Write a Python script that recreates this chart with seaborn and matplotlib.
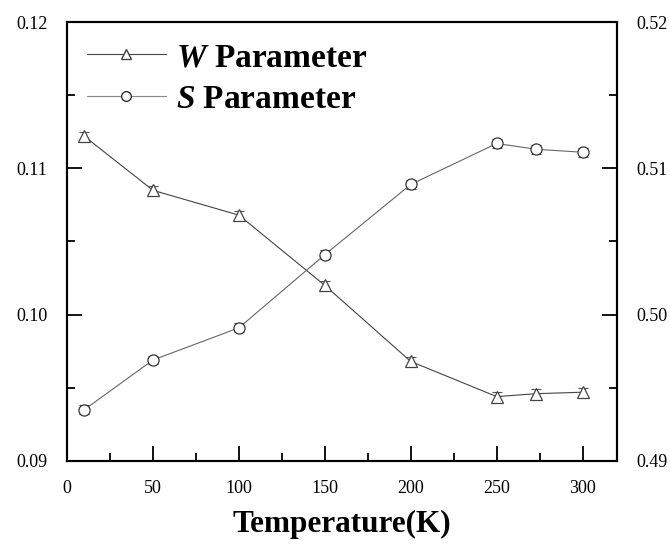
import matplotlib
matplotlib.use("Agg")
import matplotlib.pyplot as plt
import seaborn as sns
import pandas as pd
from matplotlib.ticker import MultipleLocator, FormatStrFormatter
from matplotlib.lines import Line2D

temperature = [10, 50, 100, 150, 200, 250, 273, 300]
w_param = [0.1122, 0.1085, 0.1068, 0.1020, 0.0968, 0.0944, 0.0946, 0.0947]
s_param = [0.4935, 0.4969, 0.4991, 0.5041, 0.5089, 0.5117, 0.5113, 0.5111]
w_err = [0.0003] * 8
s_err = [0.0003] * 8
x_ticks = [0, 50, 100, 150, 200, 250, 300]

sns.set_theme(style="ticks")
plt.rcParams['font.family'] = ['Liberation Serif', 'DejaVu Serif']
plt.rcParams['text.color'] = 'black'
plt.rcParams['axes.labelcolor'] = 'black'
plt.rcParams['xtick.color'] = 'black'
plt.rcParams['ytick.color'] = 'black'
plt.rcParams['mathtext.fontset'] = 'custom'
plt.rcParams['mathtext.rm'] = 'Liberation Serif'
plt.rcParams['mathtext.it'] = 'Liberation Serif:italic'
plt.rcParams['mathtext.bf'] = 'Liberation Serif:bold'
plt.rcParams['mathtext.bfit'] = 'Liberation Serif:italic:bold'

df = pd.DataFrame({"T": temperature, "W": w_param, "S": s_param})

fig = plt.figure(figsize=(6.7, 5.46), dpi=100)
ax = fig.add_axes([0.1, 0.1557, 0.821, 0.804])
ax2 = ax.twinx()

sns.lineplot(data=df, x="T", y="W", ax=ax, color="#444444", linewidth=0.8,
             marker="^", markersize=8, markerfacecolor="white",
             markeredgecolor="#444444", markeredgewidth=0.9, zorder=3)
ax.errorbar(temperature, w_param, yerr=w_err, fmt="none", ecolor="#555555",
            elinewidth=0.6, capsize=3.5, capthick=0.8, zorder=2)
sns.lineplot(data=df, x="T", y="S", ax=ax2, color="#666666", linewidth=0.8,
             marker="o", markersize=8, markerfacecolor="white",
             markeredgecolor="#333333", markeredgewidth=0.9, zorder=3)
ax2.errorbar(temperature, s_param, yerr=s_err, fmt="none", ecolor="#444444",
             elinewidth=0.6, capsize=3.5, capthick=0.8, zorder=2)

ax.set_xlim(0, 320)
ax.set_ylim(0.09, 0.12)
ax2.set_ylim(0.49, 0.52)
ax.set_xticks(x_ticks)
ax.set_xticklabels([str(t) for t in x_ticks])
ax.xaxis.set_minor_locator(MultipleLocator(25))
ax.yaxis.set_major_locator(MultipleLocator(0.01))
ax.yaxis.set_minor_locator(MultipleLocator(0.005))
ax2.yaxis.set_major_locator(MultipleLocator(0.01))
ax2.yaxis.set_minor_locator(MultipleLocator(0.005))
ax.yaxis.set_major_formatter(FormatStrFormatter("%.2f"))
ax2.yaxis.set_major_formatter(FormatStrFormatter("%.2f"))

for a in (ax, ax2):
    for sp in a.spines.values():
        sp.set_linewidth(1.5)
        sp.set_color("black")
    a.tick_params(which="major", direction="in", length=11, width=1.3,
                  labelsize=13, colors="black", pad=14)
    a.tick_params(which="minor", direction="in", length=6, width=1.3)
ax.tick_params(axis="y", right=False)
ax.tick_params(axis="x", top=False, which="both")
ax2.tick_params(axis="y", left=False)

ax.set_xlabel("Temperature(K)", fontsize=22.5, fontweight="bold", labelpad=9,
              color="black")
ax.set_ylabel("")
ax2.set_ylabel("")

handles = [
    Line2D([], [], color="#444444", linewidth=0.8, marker="^", markersize=7,
           markerfacecolor="white", markeredgecolor="#444444"),
    Line2D([], [], color="#888888", linewidth=0.8, marker="o", markersize=7,
           markerfacecolor="white", markeredgecolor="#333333"),
]
labels = [r"$\mathbfit{W}$ Parameter", r"$\mathbfit{S}$ Parameter"]
ax.legend(handles, labels, loc="upper left", frameon=False,
          prop={"size": 24, "weight": "bold"}, handlelength=2.36,
          handletextpad=0.3, labelspacing=0.32, labelcolor="black",
          bbox_to_anchor=(0.0, 1.0), borderaxespad=0.2)

fig.savefig("out.png", dpi=100)
